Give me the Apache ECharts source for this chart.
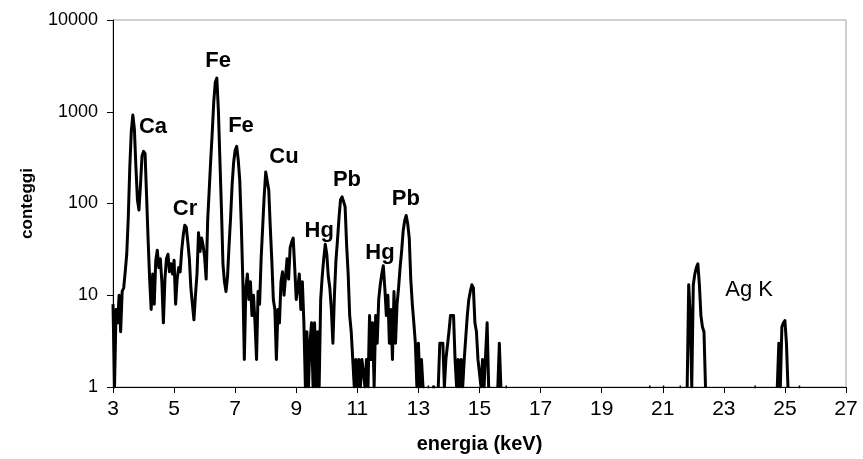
<!DOCTYPE html>
<html>
<head>
<meta charset="utf-8">
<script src="https://cdn.jsdelivr.net/npm/echarts@6/dist/echarts.min.js"></script>
<style>
  html, body { margin: 0; padding: 0; background: #fff; }
  #chart { width: 863px; height: 459px; }
</style>
</head>
<body>
<div id="chart"></div>
<script>
// XRF spectrum: counts per channel, channels every 0.05 keV
const PASSO = 0.05;

// Low-energy section, 3.00 - 15.95 keV (null = no counts)
const inizioBasso = 3.00;
const conteggiBassi = [
  // 3.00 - 3.95
  8, 1, 7, 5, 10, 4, 11, 12, 18, 28, 70, 250, 620, 920, 650, 250, 110, 85, 160, 330,
  // 4.00 - 4.95
  370, 350, 120, 40, 15, 7, 17, 8, 24, 31, 20, 25, 14, 5, 15, 25, 28, 18, 22, 17,
  // 5.00 - 5.95
  24, 8, 15, 20, 18, 31, 45, 58, 55, 38, 25, 12, 8, 5.4, 10, 17, 48, 30, 42, 35,
  // 6.00 - 6.95
  26, 15, 66, 140, 300, 600, 1300, 2100, 2330, 1050, 300, 90, 22, 14, 11, 16, 35, 70, 160, 280,
  // 7.00 - 7.95
  380, 420, 300, 180, 60, 15, 2, 12, 17, 9, 14, 6, 10, 5, 2, 11, 8, 25, 55, 120,
  // 8.00 - 8.95
  220, 225, 140, 55, 24, 9, 7, 2, 7, 5, 14, 18, 10, 16, 25, 15, 33, 38, 42, 20,
  // 9.00 - 9.95
  9, 12, 17, 7, 14, 5, 1, 4, 1, 3, 5, 1, 5, 1, 4, 1, 9, 16, 25, 36,
  // 10.00 - 10.95
  28, 16, 12, 7, 3, 10, 24, 40, 70, 110, 118, 105, 92, 35, 17, 6, 4, 2, 1, 2,
  // 11.00 - 11.95
  1, 2, 1, 2, 2, 1, 2, 1, 6, 2, 5, 1, 6, 3, 9, 13, 17, 21, 12, 6,
  // 12.00 - 12.95
  10, 3, 7, 2, 11, 3, 8, 12, 20, 30, 50, 65, 74, 60, 42, 15, 8, 5, 3, 1,
  // 13.00 - 13.95
  3, 1, 2, 1, 1, null, 1, 1, null, 1, 1, 1, null, 1, 3, 3, 3, 1, 2, 2,
  // 14.00 - 14.95
  4, 6, 6, 6, 2, 1, 2, 1, 2, 1, 2, 2, 6, 9, 11, 13, 12, 5, 4, 2,
  // 15.00 - 15.95
  2, 1, 2, 1, 1, 5, 1, null, null, null, null, null, 1, 3, 1, null, null, 1, 1, null
];

// Ag K-alpha group, from 21.80 keV
const inizioAgKa = 21.80;
const conteggiAgKa = [1, 13, 6, 1, 13, 17, 20, 22, 13, 6, 4.5, 4, 1];

// Ag K-beta group, from 24.75 keV
const inizioAgKb = 24.75;
const conteggiAgKb = [1, 3, 1, 4.5, 5, 5.3, 3, 1];

// Single-count channels in the high-energy region
const energieSingole = [20.55, 21.00, 21.55, 24.00, 25.45];

// Peak annotations
const etichette = ['Ca', 'Cr', 'Fe', 'Fe', 'Cu', 'Hg', 'Pb', 'Hg', 'Pb', 'Ag K'];
const etichetteE = [4.31, 5.36, 6.44, 7.19, 8.60, 9.75, 10.66, 11.74, 12.59, 23.83];
const etichetteY = [680, 87, 3570, 700, 320, 50, 180, 29, 112, 11.4];

// Build [energy, counts] pairs; a null breaks the line between groups
function segmento(inizio, valori) {
  return valori.map((v, i) => [+(inizio + i * PASSO).toFixed(2), v]);
}
const dati = [];
function aggiungi(seg) {
  if (dati.length) dati.push([null, null]);
  seg.forEach(p => dati.push(p));
}
aggiungi(segmento(inizioBasso, conteggiBassi));
energieSingole.filter(e => e < 21.8).forEach(e => aggiungi(segmento(e, [1, 1])));
aggiungi(segmento(inizioAgKa, conteggiAgKa));
energieSingole.filter(e => e > 22.5 && e < 24.7).forEach(e => aggiungi(segmento(e, [1, 1])));
aggiungi(segmento(inizioAgKb, conteggiAgKb));
energieSingole.filter(e => e > 25.2).forEach(e => aggiungi(segmento(e, [1, 1])));

const datiEtichette = etichette.map((t, i) => ({
  name: t,
  value: [etichetteE[i], etichetteY[i]],
  label: t === 'Ag K' ? { fontWeight: 'normal' } : {}
}));

const chart = echarts.init(document.getElementById('chart'), null, { renderer: 'canvas' });
chart.setOption({
  animation: false,
  backgroundColor: '#ffffff',
  grid: {
    left: 113, right: 17, top: 20, bottom: 72,
    outerBoundsMode: 'none',
    containLabel: false,
    show: true, borderColor: '#a0a0a0', borderWidth: 1, backgroundColor: 'transparent'
  },
  xAxis: {
    type: 'value',
    min: 3, max: 27, interval: 2,
    name: 'energia (keV)',
    nameLocation: 'middle',
    nameGap: 47,
    nameTextStyle: {
      fontFamily: '"Liberation Sans Narrow", "Liberation Sans", Arial, sans-serif',
      fontWeight: 'bold', fontSize: 20, color: '#000'
    },
    axisLine: { lineStyle: { color: '#000', width: 1 } },
    axisTick: { inside: false, length: 6, lineStyle: { color: '#000' } },
    axisLabel: {
      margin: 12,
      fontFamily: '"Liberation Sans Narrow", "Liberation Sans", Arial, sans-serif',
      fontSize: 21, color: '#000'
    },
    splitLine: { show: false }
  },
  yAxis: {
    type: 'log',
    logBase: 10,
    min: 1, max: 10000,
    name: 'conteggi',
    nameLocation: 'middle',
    nameRotate: 90,
    nameGap: 77,
    nameTextStyle: {
      fontFamily: '"Liberation Sans Narrow", "Liberation Sans", Arial, sans-serif',
      fontWeight: 'bold', fontSize: 17, color: '#000'
    },
    axisLine: { show: true, lineStyle: { color: '#000', width: 1 } },
    axisTick: { show: true, inside: false, length: 6, lineStyle: { color: '#000' } },
    minorTick: { show: false },
    axisLabel: {
      margin: 15,
      fontFamily: '"Liberation Sans", Arial, sans-serif',
      fontSize: 18, color: '#000',
      formatter: v => String(Math.round(v))
    },
    splitLine: { show: false }
  },
  series: [
    {
      type: 'line',
      data: dati,
      showSymbol: false,
      connectNulls: false,
      smooth: false,
      lineStyle: { color: '#000', width: 3, join: 'round' },
      itemStyle: { color: '#000' },
      silent: true,
      z: 3
    },
    {
      type: 'scatter',
      data: datiEtichette,
      symbolSize: 0,
      silent: true,
      z: 5,
      itemStyle: { opacity: 1, color: '#000' },
      label: {
        show: true,
        position: 'inside',
        formatter: '{b}',
        fontFamily: '"Liberation Sans", Arial, sans-serif',
        fontSize: 22,
        fontWeight: 'bold',
        color: '#000',
        opacity: 1
      }
    }
  ]
});
</script>
</body>
</html>
